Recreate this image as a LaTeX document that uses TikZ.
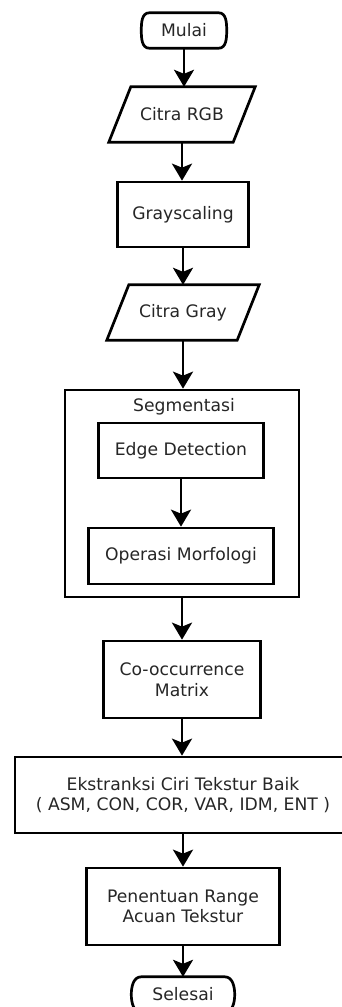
\documentclass[tikz,border=0pt]{standalone}
\usepackage{fontspec}
\setmainfont{DejaVu Sans}
\usetikzlibrary{arrows.meta}
\definecolor{txt}{rgb}{0.15,0.15,0.15}
\begin{document}
\begin{tikzpicture}[x=1pt,y=-1pt,
  every node/.style={font=\fontsize{17.2}{20.5}\selectfont, text=txt, align=center, inner sep=0pt},
  outline/.style={draw=black, line width=2.7pt, line join=miter},
  procbox/.style={outline},
  flow/.style={line width=2.7pt, -{Stealth[length=17pt,width=20pt,inset=4pt]}}]
\useasboundingbox[fill=white] (0,0) rectangle (341,1007);

% terminator start
\node[minimum width=85pt, minimum height=35pt] (mulai) at (184,30.5) {Mulai};
\draw[outline] ([xshift=8pt]mulai.north west) -- ([xshift=-8pt]mulai.north east)
  to[out=0,in=90] (mulai.east) to[out=-90,in=0] ([xshift=-8pt]mulai.south east)
  -- ([xshift=8pt]mulai.south west) to[out=180,in=-90] (mulai.west)
  to[out=90,in=180] ([xshift=8pt]mulai.north west) -- cycle;

% Citra RGB (parallelogram)
\node[minimum width=146pt, minimum height=55pt] (rgb) at (182,114.5) {Citra RGB};
\draw[outline] ([xshift=22pt]rgb.north west) -- (rgb.north east)
  -- ([xshift=-22pt]rgb.south east) -- (rgb.south west) -- cycle;

% Grayscaling
\node[procbox, minimum width=131pt, minimum height=65pt] (gs) at (183,214.5) {Grayscaling};

% Citra Gray (parallelogram)
\node[minimum width=152pt, minimum height=55pt] (gray) at (183,312.5) {Citra Gray};
\draw[outline] ([xshift=22pt]gray.north west) -- (gray.north east)
  -- ([xshift=-22pt]gray.south east) -- (gray.south west) -- cycle;

% Segmentasi group
\node[procbox, minimum width=234pt, minimum height=207pt] (seg) at (182,493.5) {};
\node (segl) at (184,407) {Segmentasi};
\node[procbox, minimum width=165pt, minimum height=55pt] (edge) at (181,450.5) {Edge Detection};
\node[procbox, minimum width=185pt, minimum height=56pt] (morf) at (181,556) {Operasi Morfologi};

% Co-occurrence
\node[procbox, minimum width=157pt, minimum height=77pt] (cooc) at (182,679.5) {Co-occurrence\\Matrix};

% Ekstraksi
\node[procbox, minimum width=336pt, minimum height=76pt] (ekst) at (183,795) {Ekstranksi Ciri Tekstur Baik\\( ASM, CON, COR, VAR, IDM, ENT )};

% Penentuan
\node[procbox, minimum width=193pt, minimum height=77pt] (pen) at (183,906.5) {Penentuan Range\\Acuan Tekstur};

% terminator end
\node[minimum width=103pt, minimum height=35pt] (sel) at (183,994.5) {Selesai};
\draw[outline] ([xshift=10pt]sel.north west) -- ([xshift=-10pt]sel.north east)
  to[out=0,in=90] (sel.east) to[out=-90,in=0] ([xshift=-10pt]sel.south east)
  -- ([xshift=10pt]sel.south west) to[out=180,in=-90] (sel.west)
  to[out=90,in=180] ([xshift=10pt]sel.north west) -- cycle;

% connectors
\draw[flow] (mulai.south) -- (mulai.south |- rgb.north);
\draw[flow] (rgb.south) -- (rgb.south |- gs.north);
\draw[flow] (gs.south) -- (gs.south |- gray.north);
\draw[flow] (gray.south) -- (gray.south |- seg.north);
\draw[flow] (edge.south) -- (edge.south |- morf.north);
\draw[flow] (seg.south) -- (seg.south |- cooc.north);
\draw[flow] (cooc.south) -- (cooc.south |- ekst.north);
\draw[flow] (ekst.south) -- (ekst.south |- pen.north);
\draw[flow] (pen.south) -- (pen.south |- sel.north);
\end{tikzpicture}
\end{document}
